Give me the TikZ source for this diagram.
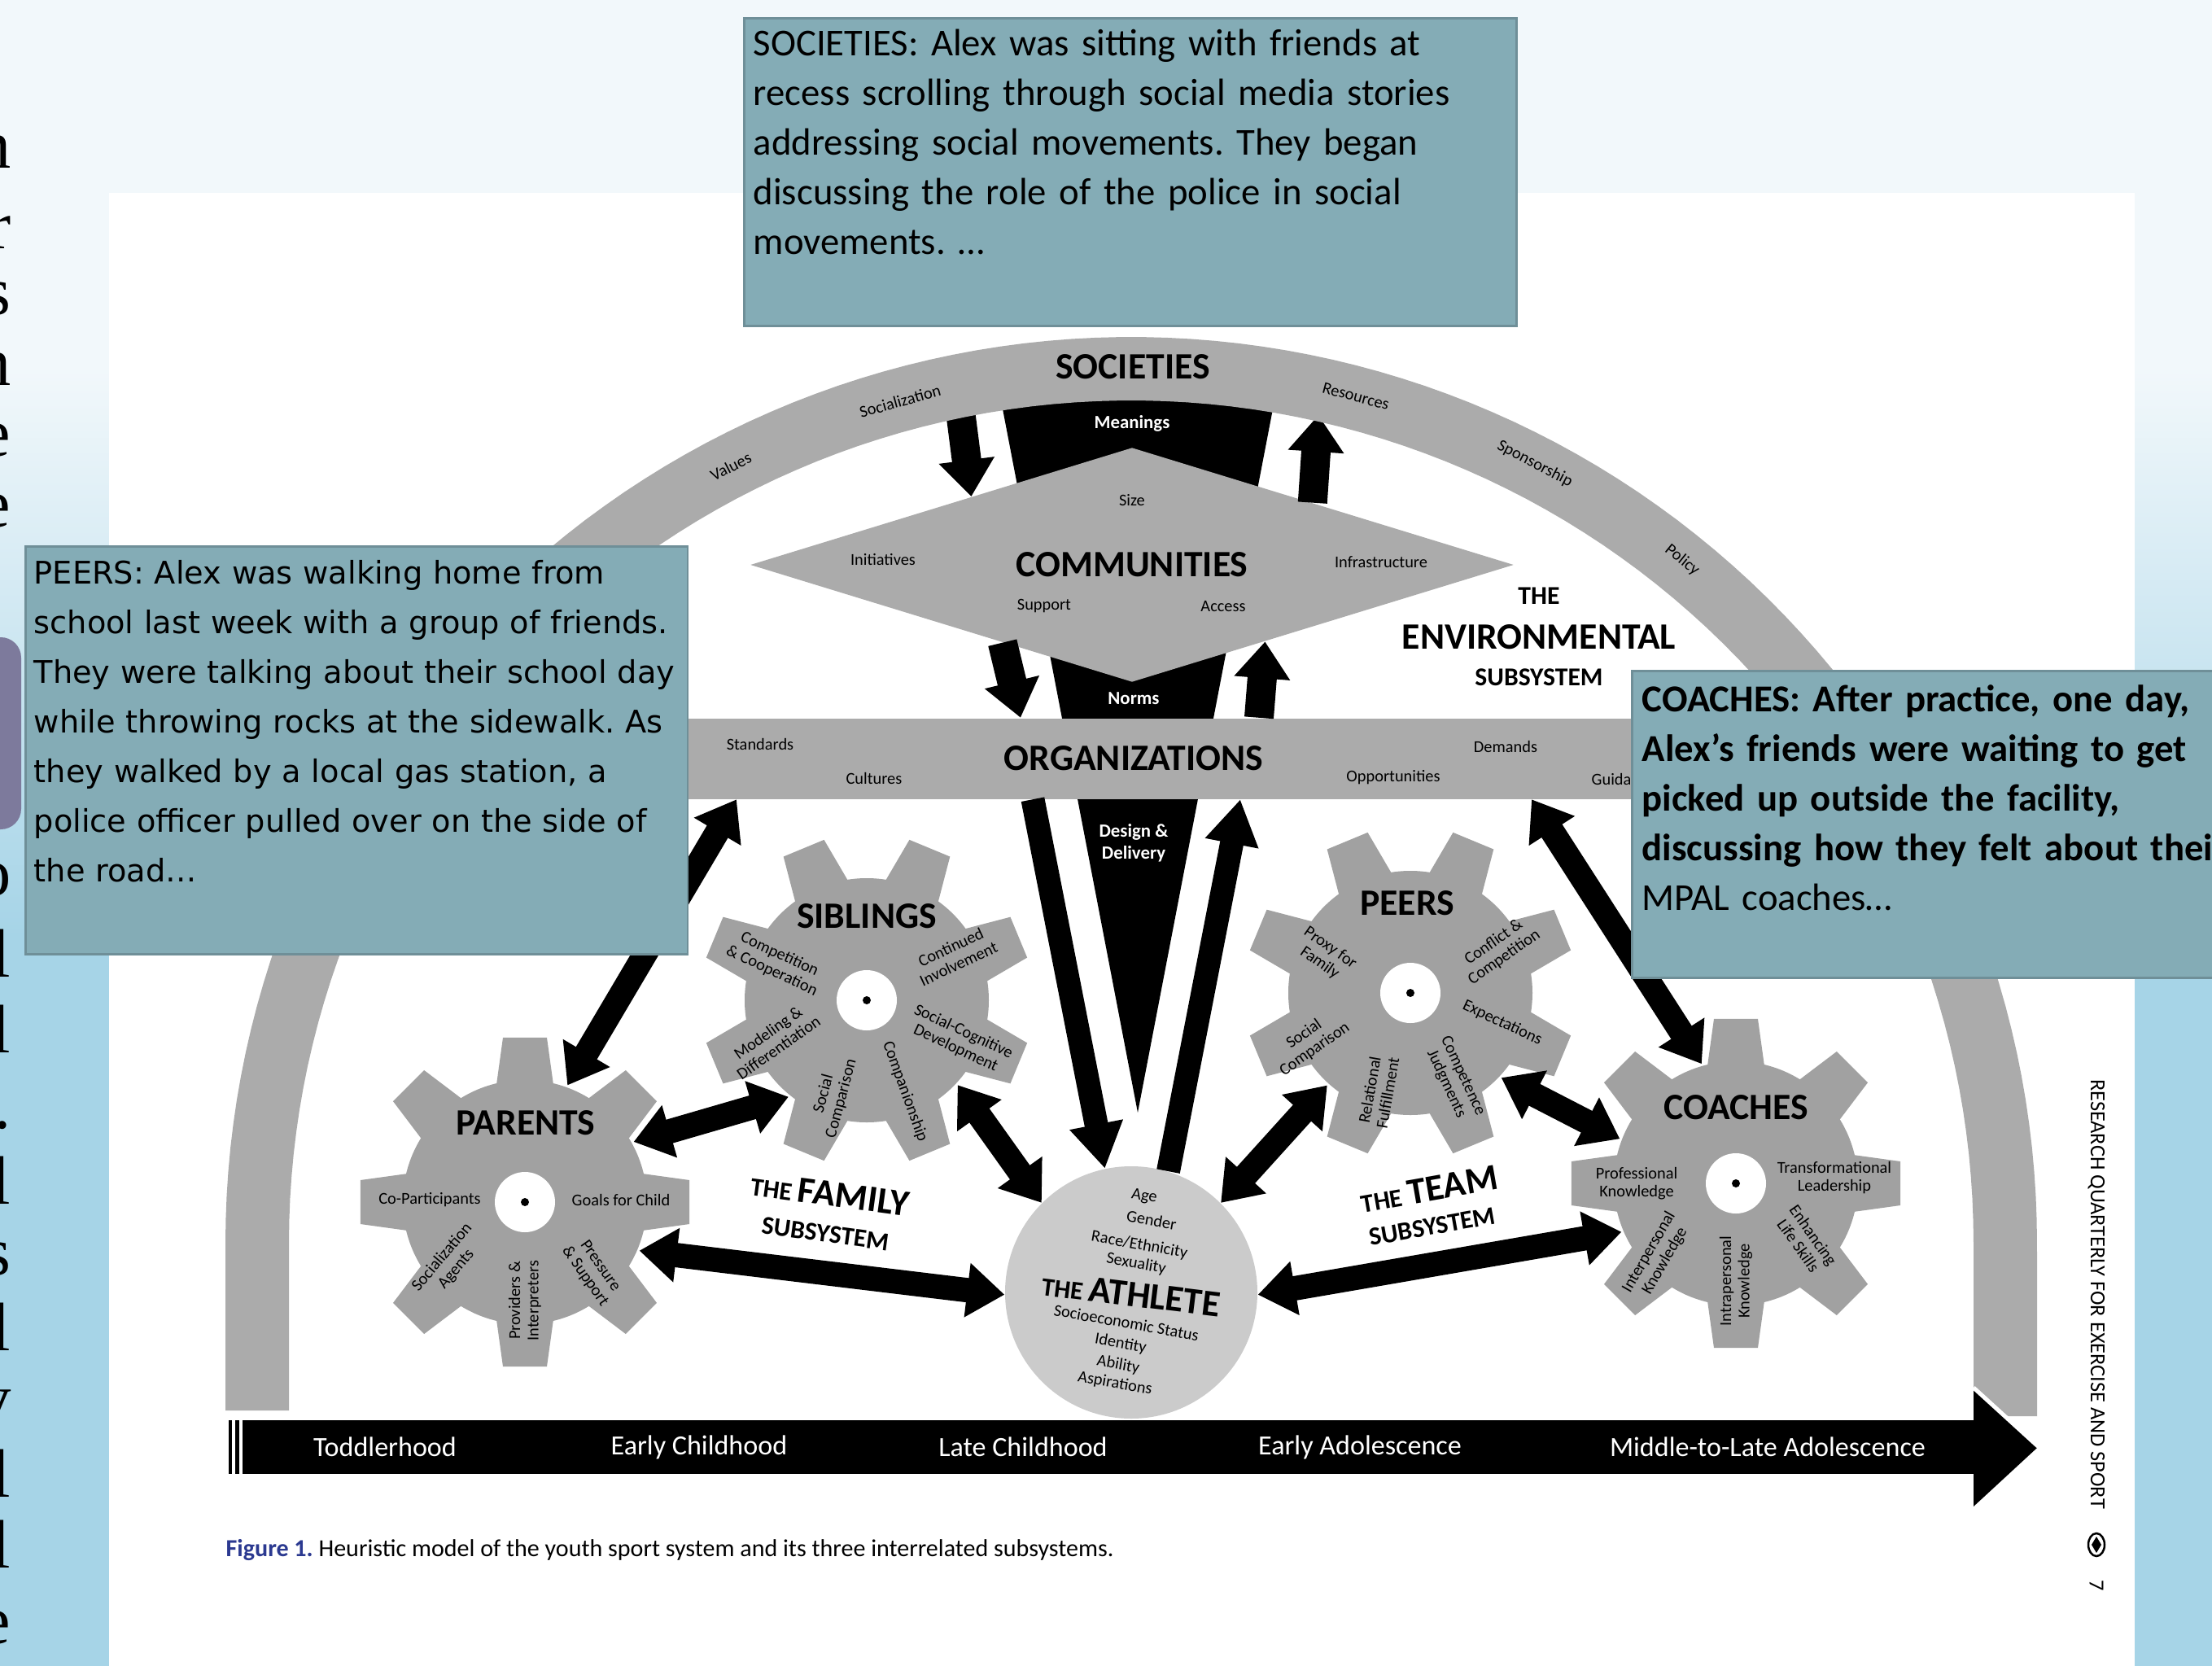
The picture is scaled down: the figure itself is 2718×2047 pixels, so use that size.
\documentclass[tikz,border=0pt]{standalone}
\usepackage{fontspec}
\setmainfont{Carlito}
\newfontfamily\storyfont{DejaVu Sans}
\newfontfamily\slidefont{Liberation Serif}
\usetikzlibrary{shapes.geometric, arrows.meta, positioning, calc}
\frenchspacing
\definecolor{paleblue}{HTML}{F2F8FB}
\definecolor{skyblue}{HTML}{A6D4E7}
\definecolor{boxfill}{HTML}{84ACB6}
\definecolor{boxline}{HTML}{6F8F98}
\definecolor{bandgrey}{HTML}{ABABAB}
\definecolor{geargrey}{HTML}{A1A1A1}
\definecolor{athgrey}{HTML}{CBCBCB}
\definecolor{tabpurple}{HTML}{7D7A9C}
\definecolor{figblue}{HTML}{2B3990}
\tikzset{
	storybox/.style={rectangle, draw=boxline, fill=boxfill, line width=0.25mm, inner sep=0, anchor=north west},
	storytext/.style={anchor=north west, inner sep=0, text width=92mm, align=left, font=\fontsize{13.3}{17.35}\selectfont},
	lbl/.style={font=\fontsize{5.8}{6.4}\selectfont, align=center, inner sep=0},
	bigcap/.style={font=\bfseries\fontsize{13}{15}\selectfont, inner sep=0},
	smallcap/.style={font=\bfseries\fontsize{9}{10.5}\selectfont, inner sep=0},
	whitetag/.style={font=\bfseries\fontsize{6.5}{7.8}\selectfont, text=white, align=center, inner sep=0},
	stagelabel/.style={font=\fontsize{9.7}{11}\selectfont, text=white, inner sep=0},
	slideletter/.style={font=\slidefont\fontsize{24}{26}\selectfont, anchor=base east, inner sep=0},
	gearhub/.style={circle, minimum size=30.4mm, inner sep=0},
	pics/gear/.style={code={
		\fill[geargrey] (0,0) circle[radius=150];
		\foreach \a in {0,45,...,315}
			\fill[geargrey] (\a+#1-15:140) -- (\a+#1-7.6:204) -- (\a+#1+7.6:204) -- (\a+#1+15:140) -- cycle;
		\fill[white] (0,0) circle[radius=37];
		\fill[black] (0,0) circle[radius=5];
	}}
}

\begin{document}
\begin{tikzpicture}[x=0.1mm, y=-0.1mm,
	stub/.style={line width=3.6mm, -{Triangle[length=4.5mm, width=6.6mm]}},
	oneway/.style={line width=2.9mm, -{Triangle[length=5.5mm, width=6.3mm]}},
	twoway/.style={line width=3mm, {Triangle[length=4.6mm, width=6.4mm]}-{Triangle[length=4.6mm, width=6.4mm]}}
	]
	\useasboundingbox (0,0) rectangle (2718,2047);
	
	% --- Slide behind the figure ---
	\fill[paleblue] (0,0) rectangle (2718,2047);
	\shade[top color=paleblue, bottom color=skyblue] (0,450) rectangle (2718,1150);
	\fill[skyblue] (0,1150) rectangle (2718,2047);
	\fill[tabpurple, rounded corners=2.5mm] (-60,783) rectangle (26,1019);
	\foreach \c/\y [count=\i] in {n/206, r/305, s/386, n/473, e/560, e/647, o/1100, l/1200, l/1293, ./1386, l/1479, s/1566, l/1659, v/1746, l/1839, l/1926, e/2019}
		\node[slideletter] (slide\i) at (14,\y) {\c};
	\fill[white] (134,237) rectangle (2623,2047);
	
	% --- Environmental subsystem: funnel, communities, societies arc ---
	\fill[black] (1220,440) -- (1576,440) -- (1398,1367) -- cycle;
	\node[diamond, fill=bandgrey, minimum width=93.8mm, minimum height=28.8mm, aspect=3.3, inner sep=0, bigcap] (comm) at (1391,694) {COMMUNITIES};
	\coordinate (socin1) at (1180,505);
	\coordinate (socin2) at (1620,510);
	\draw[stub] (socin1) -- (comm.157.3);
	\draw[stub] (comm.19.7) -- (socin2);
	\fill[bandgrey] (277,1733) -- plot[domain=180:360, samples=120] ({1390+1113*cos(\x)},{1527+1113*sin(\x)}) -- (2503,1740) -- (2425,1740) -- plot[domain=360:180, samples=120] ({1390+1035*cos(\x)},{1527+1035*sin(\x)}) -- (355,1733) -- cycle;
	\node[bigcap] (soc) at (1392,451) {SOCIETIES};
	\foreach \x/\y/\r/\t [count=\i] in {1106/493/15.4/Socialization, 898/573/27.3/Values, 1666/487/-14.9/Resources, 1886/570/-27.4/Sponsorship, 2067/688/-38.9/Policy}
		\node[lbl, rotate=\r] (arc\i) at (\x,\y) {\t};
	\node[whitetag] (meanings) at (1391,520) {Meanings};
	\foreach \x/\y/\t [count=\i] in {1391/615/Size, 1085/688/Initiatives, 1697/691/Infrastructure, 1283/745/Support, 1503/745/Access}
		\node[lbl] (comm\i) at (\x,\y) {\t};
	\node[smallcap] (envthe) at (1891,732) {THE};
	\node[bigcap, below=2.4mm of envthe] (envname) {ENVIRONMENTAL};
	\node[smallcap, below=2.2mm of envname] (envsub) {SUBSYSTEM};
	
	% --- Organizations band ---
	\node[rectangle, fill=bandgrey, minimum width=126.6mm, minimum height=9.9mm, inner sep=0, bigcap] (org) at (1393,932) {ORGANIZATIONS};
	\draw[stub] (comm.211.3) -- (1254,0 |- org.north);
	\draw[stub] (1547,0 |- org.north) -- (comm.330.7);
	\node[whitetag] (norms) at (1393,858) {Norms};
	\foreach \x/\y/\t [count=\i] in {934/914/Standards, 1074/956/Cultures, 1712/955/Opportunities, 1850/917/Demands}
		\node[lbl] (org\i) at (\x,\y) {\t};
	\node[lbl, anchor=west] (guidance) at (1955,957) {Guidance};
	\node[whitetag] (design) at (1393,1036) {Design \&\\Delivery};
	
	% --- Developmental timeline ---
	\fill[black] (281,1745) rectangle (2427,1811);
	\fill[black] (2425,1707) -- (2503,1779) -- (2425,1851) -- cycle;
	\draw[white, line width=0.5mm] (2425,1705) -- (2504,1777);
	\draw[white, line width=0.35mm] (287,1745) -- (287,1811) (296,1745) -- (296,1811);
	\foreach \x/\t [count=\i] in {473/Toddlerhood, 859/Early Childhood, 1257/Late Childhood, 1671/Early Adolescence, 2172/Middle-to-Late Adolescence}
		\node[stagelabel] (stage\i) at (\x,1778) {\t};
	
	% --- Gears of the family and team subsystems ---
	\pic at (645,1477) {gear=0};
	\pic at (1065,1229) {gear=22.5};
	\pic at (1733,1220) {gear=22.5};
	\pic at (2133,1454) {gear=0};
	\node[gearhub] (parents) at (645,1477) {};
	\node[gearhub] (siblings) at (1065,1229) {};
	\node[gearhub] (peers) at (1733,1220) {};
	\node[gearhub] (coaches) at (2133,1454) {};
	\node[bigcap] (parentsT) at (646,1380) {PARENTS};
	\node[bigcap] (siblingsT) at (1065,1126) {SIBLINGS};
	\node[bigcap] (peersT) at (1729,1110) {PEERS};
	\node[bigcap] (coachesT) at (2133,1361) {COACHES};
	\foreach \x/\y/\r/\t [count=\i] in {
		528/1474/0/{Co-Participants}, 763/1474/0/{Goals for Child},
		552/1552/50/{Socialization\\Agents}, 645/1598/90/{Providers \&\\Interpreters},
		728/1562/-55/{Pressure\\\& Support},
		953/1183/-25/{Competition\\\& Cooperation}, 1173/1174/25/{Continued\\Involvement},
		950/1278/35/{Modeling \&\\Differentiation}, 1179/1278/-25/{Social-Cognitive\\Development},
		1023/1347/75/{Social\\Comparison}, 1112/1341/-70/{Companionship},
		1628/1174/-35/{Proxy for\\Family}, 1842/1167/35/{Conflict \&\\Competition},
		1846/1257/-25/{Expectations}, 1787/1327/-65/{Competence\\Judgments},
		1694/1341/80/{Relational\\Fulfillment}, 1609/1280/35/{Social\\Comparison},
		2011/1454/0/{Professional\\Knowledge}, 2254/1447/0/{Transformational\\Leadership},
		2036/1544/60/{Interpersonal\\Knowledge}, 2133/1574/90/{Intrapersonal\\Knowledge},
		2219/1524/-55/{Enhancing\\Life Skills}}
		\node[lbl, rotate=\r] (gl\i) at (\x,\y) {\t};
	
	% --- The athlete ---
	\node[circle, fill=athgrey, minimum size=31mm, inner sep=0] (ath) at (1390,1588) {};
	\foreach \x/\y/\t [count=\i] in {1406/1470/Age, 1415/1499/Gender, 1400/1530/{Race/Ethnicity}, 1396/1553/Sexuality, 1384/1625/{Socioeconomic Status}, 1377/1651/Identity, 1374/1677/Ability, 1370/1700/Aspirations}
		\node[lbl, rotate=-10] (athl\i) at (\x,\y) {\t};
	\node[bigcap, rotate=-7] (athT) at (1390,1590) {{\fontsize{9}{10}\selectfont THE }ATHLETE};
	
	% --- Connectors ---
	\draw[twoway] (parents.70.5) -- (905,0 |- org.south);
	\draw[twoway] (coaches.106) -- (1882,0 |- org.south);
	\draw[twoway] (parents.29.3) -- (siblings.231.3);
	\draw[twoway] (siblings.317.1) -- (ath.135.5);
	\draw[twoway] (parents.337.2) -- (ath.181);
	\draw[twoway] (peers.228.8) -- (ath.45.7);
	\draw[twoway] (peers.317.5) -- (coaches.159.7);
	\draw[twoway] (ath.359) -- (coaches.203.8);
	\draw[oneway] (1269,0 |- org.south) -- (ath.102.5);
	\draw[oneway] (ath.73) -- (1524,0 |- org.south);
	
	% --- Subsystem names ---
	\node[bigcap, rotate=-7.7] (famT) at (1020,1467) {{\fontsize{9}{10}\selectfont THE }FAMILY};
	\node[smallcap, rotate=-7.7] (famS) at (1014,1516) {SUBSYSTEM};
	\node[bigcap, rotate=10] (teamT) at (1756,1461) {{\fontsize{9}{10}\selectfont THE }TEAM};
	\node[smallcap, rotate=10] (teamS) at (1760,1507) {SUBSYSTEM};
	
	% --- Caption and page margin ---
	\node[anchor=base west, inner sep=0, font=\fontsize{8.55}{10}\selectfont] (caption) at (277,1912) {{\color{figblue}\bfseries Figure 1.} Heuristic model of the youth sport system and its three interrelated subsystems.};
	\node[rotate=-90, font=\fontsize{7.5}{9}\selectfont, inner sep=0] (journal) at (2576,1590) {RESEARCH QUARTERLY FOR EXERCISE AND SPORT};
	\draw[line width=0.25mm] (2576,1898) ellipse[x radius=10, y radius=14];
	\fill (2570,1898) -- (2576,1888) -- (2582,1898) -- (2576,1908) -- cycle;
	\node[rotate=-90, font=\fontsize{7.5}{9}\selectfont, inner sep=0] (pagenum) at (2576,1948) {7};
	
	% --- Story boxes on the slide ---
	\node[storybox, minimum width=94.9mm, minimum height=37.8mm] (socbox) at (913,21) {};
	\node[storytext] (soctext) at ([xshift=1.2mm, yshift=-1.4mm]socbox.north west) {SOCIETIES: Alex was sitting with friends at\\ recess scrolling through social media stories\\ addressing social movements. They began\\ discussing the role of the police in social\\ movements. …};
	\node[storybox, minimum width=81.4mm, minimum height=50.1mm] (peerbox) at (30,670) {};
	\node[storytext, text width=80mm, font=\storyfont\fontsize{10.9}{17.35}\selectfont] (peertext) at ([xshift=1.1mm, yshift=-1.8mm]peerbox.north west) {PEERS: Alex was walking home from\\ school last week with a group of friends.\\ They were talking about their school day\\ while throwing rocks at the sidewalk. As\\ they walked by a local gas station, a\\ police officer pulled over on the side of\\ the road…};
	\node[storybox, minimum width=76mm, minimum height=37.7mm] (coachbox) at (2004,823) {};
	\node[storytext] (coachtext) at ([xshift=1.3mm, yshift=-1.8mm]coachbox.north west) {\textbf{COACHES: After practice, one day,}\\ \textbf{Alex’s friends were waiting to get}\\ \textbf{picked up outside the facility,}\\ \textbf{discussing how they felt about their}\\ MPAL coaches…};
\end{tikzpicture}
\end{document}
